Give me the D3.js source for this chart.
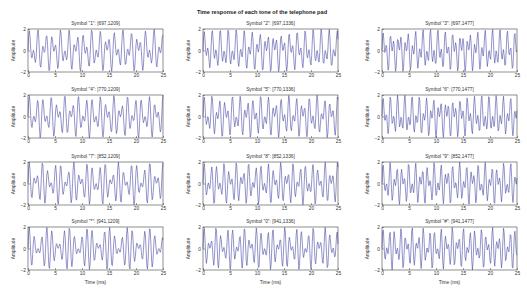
<!DOCTYPE html>
<html>
<head>
<meta charset="utf-8">
<script src="https://cdn.jsdelivr.net/npm/d3@7"></script>
<style>
  body { margin: 0; background: #fff; }
  svg { display: block; font-family: "Liberation Sans", Arial, sans-serif; }
</style>
</head>
<body>
<script>
// chart data
const symbols = ["1", "2", "3", "4", "5", "6", "7", "8", "9", "*", "0", "#"];
const lowFreqs = [697, 770, 852, 941];   // row tones, Hz
const highFreqs = [1209, 1336, 1477];    // column tones, Hz
const xTicks = [0, 5, 10, 15, 20, 25];
const yTicks = [-2, 0, 2];
const sampleRate = 8000;                 // Hz
const sampleCount = 201;                 // 0..25 ms

// each trace is the two-tone sum named in its own title
function toneSamples(f1, f2) {
  const out = [];
  for (let n = 0; n < sampleCount; n++) {
    const t = n / sampleRate;
    out.push({ ms: t * 1e3, v: Math.sin(2 * Math.PI * f1 * t) + Math.sin(2 * Math.PI * f2 * t) });
  }
  return out;
}

const width = 527, height = 295;
const colLeft = [28, 203, 382];
const rowTop = [29, 95, 162, 227];
const plotW = 135, plotH = 43;

const svg = d3.select("body").append("svg")
  .attr("width", width)
  .attr("height", height);

svg.append("text")
  .attr("x", 262)
  .attr("y", 14)
  .attr("text-anchor", "middle")
  .attr("font-size", 5.6)
  .attr("font-weight", "bold")
  .attr("fill", "#222")
  .text("Time response of each tone of the telephone pad");

const x = d3.scaleLinear().domain([0, 25]).range([0, plotW]);
const y = d3.scaleLinear().domain([-2, 2]).range([plotH, 0]);
const line = d3.line().x(d => x(d.ms)).y(d => y(d.v));

symbols.forEach((s, i) => {
  const r = Math.floor(i / 3), c = i % 3;
  const f1 = lowFreqs[r], f2 = highFreqs[c];
  const g = svg.append("g").attr("transform", `translate(${colLeft[c]},${rowTop[r]})`);

  g.append("path")
    .datum(toneSamples(f1, f2))
    .attr("d", line)
    .attr("fill", "none")
    .attr("stroke", "#4b4ba6")
    .attr("stroke-width", 0.6);

  const xa = g.append("g")
    .attr("transform", `translate(0,${plotH})`)
    .call(d3.axisBottom(x).tickValues(xTicks).tickFormat(d3.format("d")).tickSize(-2).tickPadding(2));
  const ya = g.append("g")
    .call(d3.axisLeft(y).tickValues(yTicks).tickFormat(d3.format("d")).tickSize(-2).tickPadding(2));
  [xa, ya].forEach(a => {
    a.select(".domain").remove();
    a.selectAll("line").attr("stroke", "#444").attr("stroke-width", 0.5);
    a.selectAll("text").attr("font-size", 4.8).attr("fill", "#333").attr("font-family", null);
  });

  g.append("rect")
    .attr("width", plotW)
    .attr("height", plotH)
    .attr("fill", "none")
    .attr("stroke", "#444")
    .attr("stroke-width", 0.6);

  g.append("text")
    .attr("x", plotW / 2)
    .attr("y", -4)
    .attr("text-anchor", "middle")
    .attr("font-size", 4.8)
    .attr("fill", "#333")
    .text(`Symbol "${s}": [${f1},${f2}]`);

  g.append("text")
    .attr("transform", `translate(-13,${plotH / 2}) rotate(-90)`)
    .attr("text-anchor", "middle")
    .attr("font-size", 4.8)
    .attr("fill", "#333")
    .text("Amplitude");

  if (r === 3) {
    g.append("text")
      .attr("x", plotW / 2)
      .attr("y", plotH + 14)
      .attr("text-anchor", "middle")
      .attr("font-size", 4.8)
      .attr("fill", "#333")
      .text("Time (ms)");
  }
});
</script>
</body>
</html>
